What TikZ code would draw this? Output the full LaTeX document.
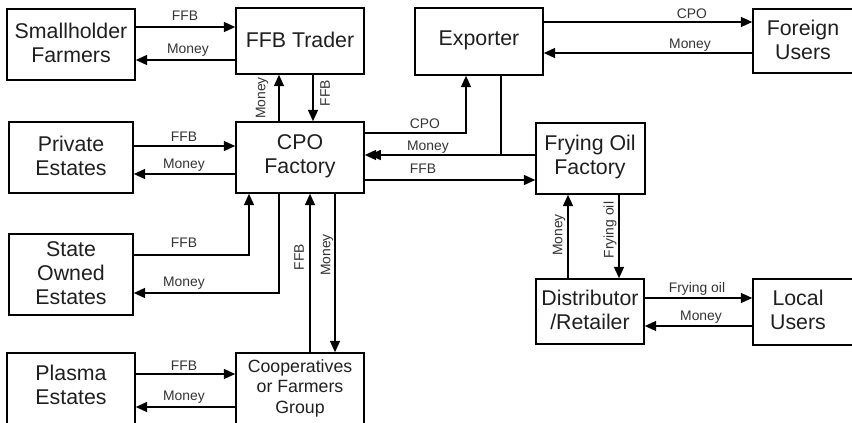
\documentclass[tikz,border=0pt]{standalone}
\usepackage{fontspec}
\setmainfont{Liberation Sans}
\usetikzlibrary{arrows.meta,fit}
\begin{document}
\begin{tikzpicture}[x=0.75pt,y=-0.75pt,
  box/.style={draw, line width=1.2pt, inner sep=0pt},
  btxt/.style={font=\fontsize{16}{18}\selectfont, align=center, text=black!88, inner sep=0pt},
  ctxt/.style={font=\fontsize{13.3}{15.4}\selectfont, align=center, text=black!88, inner sep=0pt},
  lbl/.style={font=\fontsize{10.4}{12}\selectfont, text=black!80, inner sep=0pt},
  arr/.style={line width=1.2pt, -{Triangle[length=8.5pt,width=7.5pt]}},
]
\path[use as bounding box] (0,0) rectangle (852,423);
\clip (0,0) rectangle (852,423);
% boxes
\node[box, fit={(7,9)(135,80)}] (sf) {};
\node[box, fit={(236,8)(364,74)}] (ft) {};
\node[box, fit={(415,8)(543,75)}] (ex) {};
\node[box, fit={(753,9)(853,73)}] (fu) {};
\node[box, fit={(9,122)(133,193)}] (pe) {};
\node[box, fit={(236,122)(364,193)}] (cpo) {};
\node[box, fit={(536,123)(645,194)}] (fof) {};
\node[box, fit={(9,234)(133,315)}] (soe) {};
\node[box, fit={(536,279)(644,344)}] (dr) {};
\node[box, fit={(753,279)(853,345)}] (lu) {};
\node[box, fit={(7,353)(135,430)}] (pl) {};
\node[box, fit={(236,353)(364,430)}] (co) {};
% box texts
\node[btxt] (sft) at (71,43) {Smallholder\\Farmers};
\node[btxt] (ftt) at (300,40) {FFB Trader};
\node[btxt] (ext) at (479,40) {Exporter};
\node[btxt] (fut) at (803,40) {Foreign\\Users};
\node[btxt] (pet) at (71,156) {Private\\Estates};
\node[btxt] (cpot) at (300,156) {CPO\\Factory};
\node[btxt] (foft) at (590,157) {Frying Oil\\Factory};
\node[btxt] (soet) at (71,273) {State\\Owned\\Estates};
\node[btxt] (drt) at (590,310) {Distributor\\/Retailer};
\node[btxt] (lut) at (798,310) {Local\\Users};
\node[btxt] (plt) at (71,385) {Plasma\\Estates};
\node[ctxt] (cot) at (300,388) {Cooperatives\\or Farmers\\Group};
% connectors
\draw[arr] (sf.east |- 0,27) -- (ft.west |- 0,27);
\node[lbl] (l1) at (185,16) {FFB};
\draw[arr] (ft.west |- 0,60) -- (sf.east |- 0,60);
\node[lbl] (l2) at (188,50) {Money};
\draw[arr] (cpo.north -| 279,0) -- (ft.south -| 279,0);
\node[lbl,rotate=90] (l3) at (262,98) {Money};
\draw[arr] (ft.south -| 313,0) -- (cpo.north -| 313,0);
\node[lbl,rotate=90] (l4) at (325,93) {FFB};
\draw[arr] (ex.east |- 0,22) -- (fu.west |- 0,22);
\node[lbl] (l5) at (692,14) {CPO};
\draw[arr] (fu.west |- 0,53) -- (ex.east |- 0,53);
\node[lbl] (l6) at (690,45) {Money};
\draw[arr] (pe.east |- 0,146) -- (cpo.west |- 0,146);
\node[lbl] (l7) at (184,137) {FFB};
\draw[arr] (cpo.west |- 0,174) -- (pe.east |- 0,174);
\node[lbl] (l8) at (184,165) {Money};
\draw[arr] (cpo.east |- 0,133) -| (ex.south -| 466,0);
\node[lbl] (l9) at (425,124) {CPO};
\draw[arr] (fof.west |- 0,155) -- (cpo.east |- 0,155);
\node[lbl] (l10) at (428,147) {Money};
\draw[arr, shorten >=3.5pt] (ex.south -| 501,0) |- (cpo.east |- 0,155);
\draw[arr] (cpo.east |- 0,180) -- (fof.west |- 0,180);
\node[lbl] (l12) at (423,169) {FFB};
\draw[arr] (soe.east |- 0,255) -| (cpo.south -| 249,0);
\node[lbl] (l13) at (184,243) {FFB};
\draw[arr] (cpo.south -| 279,0) |- (soe.east |- 0,293);
\node[lbl] (l14) at (184,283) {Money};
\draw[arr] (co.north -| 310,0) -- (cpo.south -| 310,0);
\node[lbl,rotate=90] (l15) at (299,257) {FFB};
\draw[arr] (cpo.south -| 335,0) -- (co.north -| 335,0);
\node[lbl,rotate=90] (l16) at (327,255) {Money};
\draw[arr] (pl.east |- 0,374) -- (co.west |- 0,374);
\node[lbl] (l17) at (184,366) {FFB};
\draw[arr] (co.west |- 0,407) -- (pl.east |- 0,407);
\node[lbl] (l18) at (184,397) {Money};
\draw[arr] (dr.north -| 568,0) -- (fof.south -| 568,0);
\node[lbl,rotate=90] (l19) at (559,235) {Money};
\draw[arr] (fof.south -| 619,0) -- (dr.north -| 619,0);
\node[lbl,rotate=90] (l20) at (610,230) {Frying oil};
\draw[arr] (dr.east |- 0,298) -- (lu.west |- 0,298);
\node[lbl] (l21) at (697,289) {Frying oil};
\draw[arr] (lu.west |- 0,326) -- (dr.east |- 0,326);
\node[lbl] (l22) at (701,317) {Money};
\end{tikzpicture}
\end{document}
